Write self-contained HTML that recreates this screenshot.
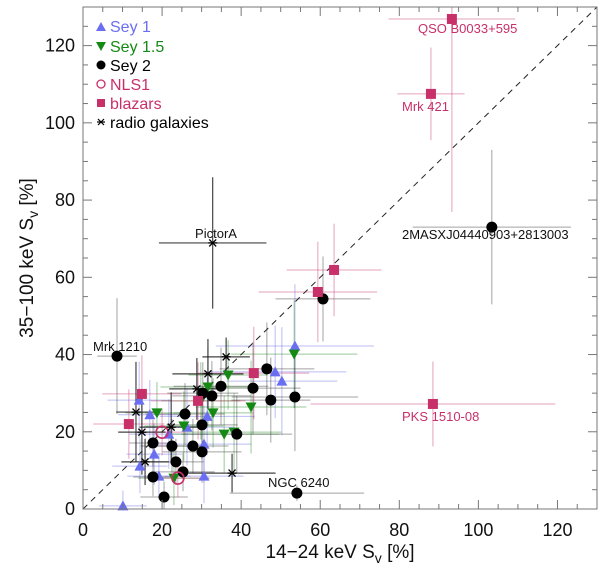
<!DOCTYPE html>
<html><head><meta charset="utf-8"><style>
html,body{margin:0;padding:0;background:#fff;}
svg{display:block;font-family:"Liberation Sans","DejaVu Sans",sans-serif;}
</style></head><body>
<svg id="chart" width="600" height="574" viewBox="0 0 600 574" xmlns="http://www.w3.org/2000/svg">
<g id="errs"></g>
<line id="diag" stroke="#222" stroke-width="1" stroke-dasharray="6,5"/>
<g id="marks"></g>
<g id="axes"></g>
<text x="340" y="558" text-anchor="middle" font-size="19" fill="#111">14−24 keV S<tspan font-size="14" dy="5">v</tspan><tspan dy="-5"> [%]</tspan></text>
<text transform="translate(33,258) rotate(-90)" text-anchor="middle" font-size="19" fill="#111">35−100 keV S<tspan font-size="14" dy="5">v</tspan><tspan dy="-5"> [%]</tspan></text>
<g font-size="13">
<text x="93" y="351" fill="#111">Mrk 1210</text>
<text x="268" y="487" fill="#111">NGC 6240</text>
<text x="216" y="238" text-anchor="middle" fill="#111">PictorA</text>
<text x="418" y="33" fill="#c8306a">QSO B0033+595</text>
<text x="402" y="111" fill="#c8306a">Mrk 421</text>
<text x="402" y="239" fill="#111">2MASXJ04440903+2813003</text>
<text x="402" y="421" fill="#c8306a">PKS 1510-08</text>
</g>
<g font-size="16">
<g><polygon points="101,22 96,31 106,31" fill="#6a6ef0"/><text x="110" y="32" fill="#6a6ef0">Sey 1</text></g>
<g><polygon points="101,51 96,42 106,42" fill="#148a14"/><text x="110" y="52" fill="#148a14">Sey 1.5</text></g>
<g><circle cx="101" cy="65" r="4.5" fill="#000"/><text x="110" y="71" fill="#000">Sey 2</text></g>
<g><circle cx="101" cy="84" r="4" fill="none" stroke="#c8306a" stroke-width="1.3"/><text x="110" y="90" fill="#c8306a">NLS1</text></g>
<g><rect x="97" y="99" width="8" height="8" fill="#c8306a"/><text x="110" y="109" fill="#c8306a">blazars</text></g>
<g><g stroke="#000" stroke-width="1.2"><line x1="97" y1="122" x2="105" y2="122"/><line x1="98" y1="119" x2="104" y2="125"/><line x1="98" y1="125" x2="104" y2="119"/></g><text x="110" y="128" fill="#000">radio galaxies</text></g>
</g>
</svg>
<script>
// ---- data ----
const sey1X = [10.1,14.2,16.9,18.0,14.4,19.2,21.7,26.3,30.6,30.6,31.4,48.6,50.3,53.6];
const sey1Y = [0.8,28.2,24.4,14.2,11.1,8.5,19.4,21.2,16.8,8.5,24.0,35.5,33.1,42.2];
const sey15X = [18.7,25.5,31.6,32.9,36.7,35.7,38.2,42.5,53.4,23.0,29.8];
const sey15Y = [24.9,21.5,31.6,24.9,34.7,19.4,19.9,26.4,40.1,8.0,28.0];
const sey2X = [8.6,17.7,17.7,20.5,22.5,23.5,25.3,25.8,27.8,30.1,30.1,30.3,32.6,34.9,38.9,43.0,46.5,47.5,53.6,54.1,60.7,103.4];
const sey2Y = [39.6,17.1,8.3,3.1,16.3,12.2,9.6,24.6,16.3,21.8,14.8,30.0,29.3,31.8,19.4,31.3,36.3,28.2,29.0,4.1,54.4,73.0];
const nls1X = [20.0,24.0];
const nls1Y = [19.9,8.0];
const blazX = [11.6,14.9,29.1,43.2,59.4,63.5,88.0,93.3,88.5];
const blazY = [22.0,29.8,28.0,35.2,56.2,61.9,107.5,126.9,27.2];
const radioX = [13.4,14.9,15.7,22.3,28.8,31.6,36.2,37.7,32.8];
const radioY = [25.1,19.9,12.2,21.2,31.1,35.0,39.4,9.3,68.9];
const sey1XErr = [6,8,8,7,7,8,10,12,12,10,12,18,14,20];
const sey1YErr = [4,10,9,8,7,6,9,10,10,7,10,12,14,16];
const sey15XErr = [8,10,12,10,10,14,12,14,16,9,10];
const sey15YErr = [8,9,10,9,9,10,10,12,14,7,10];
const sey2XErr = [5,6,5,6,8,7,8,10,9,9,10,9,10,12,14,12,12,10,16,17,12,20];
const sey2YErr = [15,6,5,4,7,6,5,8,7,9,8,8,9,10,10,12,12,11,14,2,11,20];
const nls1XErr = [6,8];
const nls1YErr = [6,5];
const blazXErr = [9,10,12,14,15,12,8.5,16,31];
const blazYErr = [9,10,10,12,13,12,12,50,11];
const radioXErr = [5,6,6,8,7,9,6,11,13.6];
const radioYErr = [13,11,6,9,8,9,5,5,17];
const xTicks = [0,20,40,60,80,100,120];
const yTicks = [0,20,40,60,80,100,120];

const L=83,T=7,R=597,B=509, XMAX=130, YMAX=130;
const sx = v => L + v*(R-L)/XMAX;
const sy = v => B - v*(B-T)/YMAX;
const NS='http://www.w3.org/2000/svg';
function mk(tag, parent, attrs){const e=document.createElementNS(NS,tag);for(const k in attrs)e.setAttribute(k,attrs[k]);parent.appendChild(e);return e;}

const errs=document.getElementById('errs'), marks=document.getElementById('marks');
function drawErr(xs,ys,xe,ye,col,name){
  for(let i=0;i<xs.length;i++){
    const h=mk('line',errs,{x1:sx(Math.max(0,xs[i]-xe[i])),x2:sx(Math.min(XMAX,xs[i]+xe[i])),y1:sy(ys[i]),y2:sy(ys[i]),stroke:col,'stroke-width':1,'stroke-opacity':0.45});
    
    
    const v=mk('line',errs,{x1:sx(xs[i]),x2:sx(xs[i]),y1:sy(Math.min(YMAX,ys[i]+ye[i])),y2:sy(Math.max(0,ys[i]-ye[i])),stroke:col,'stroke-width':1,'stroke-opacity':0.45});
    
    
  }
}
drawErr(sey1X,sey1Y,sey1XErr,sey1YErr,'#6a6ae8','sey1');
drawErr(sey15X,sey15Y,sey15XErr,sey15YErr,'#1a8a1a','sey15');
drawErr(sey2X,sey2Y,sey2XErr,sey2YErr,'#333','sey2');
drawErr(nls1X,nls1Y,nls1XErr,nls1YErr,'#c8306a','nls1');
drawErr(blazX,blazY,blazXErr,blazYErr,'#c8306a','blazar');
for(let i=0;i<radioX.length;i++){
  const h=mk('line',errs,{x1:sx(radioX[i]-radioXErr[i]),x2:sx(radioX[i]+radioXErr[i]),y1:sy(radioY[i]),y2:sy(radioY[i]),stroke:'#222','stroke-width':1.2,'stroke-opacity':0.85});
  
  
  const v=mk('line',errs,{x1:sx(radioX[i]),x2:sx(radioX[i]),y1:sy(radioY[i]+radioYErr[i]),y2:sy(radioY[i]-radioYErr[i]),stroke:'#222','stroke-width':1.2,'stroke-opacity':0.85});
  
  
}

const d=document.getElementById('diag');
d.setAttribute('x1',sx(0));d.setAttribute('y1',sy(0));d.setAttribute('x2',sx(130));d.setAttribute('y2',sy(130));

function triUp(p,cx,cy,col){return mk('polygon',p,{points:`${cx},${cy-5.5} ${cx-5.5},${cy+4.5} ${cx+5.5},${cy+4.5}`,fill:col});}
function triDn(p,cx,cy,col){return mk('polygon',p,{points:`${cx},${cy+5.5} ${cx-5.5},${cy-4.5} ${cx+5.5},${cy-4.5}`,fill:col});}
function star(p,cx,cy){const g=mk('g',p,{stroke:'#000','stroke-width':1.3});
  mk('line',g,{x1:cx-4.5,x2:cx+4.5,y1:cy,y2:cy});mk('line',g,{x1:cx-3.5,x2:cx+3.5,y1:cy-3.5,y2:cy+3.5});mk('line',g,{x1:cx-3.5,x2:cx+3.5,y1:cy+3.5,y2:cy-3.5});return g;}
for(let i=0;i<sey1X.length;i++){const e=triUp(marks,sx(sey1X[i]),sy(sey1Y[i]),'#6a6ef0');
  
  }
for(let i=0;i<sey15X.length;i++){const e=triDn(marks,sx(sey15X[i]),sy(sey15Y[i]),'#148a14');
  
  }
for(let i=0;i<sey2X.length;i++){const e=mk('circle',marks,{cx:sx(sey2X[i]),cy:sy(sey2Y[i]),r:5.5,fill:'#000'});
  
  }
for(let i=0;i<nls1X.length;i++){const e=mk('circle',marks,{cx:sx(nls1X[i]),cy:sy(nls1Y[i]),r:6,fill:'none',stroke:'#c8306a','stroke-width':1.6});
  
  }
for(let i=0;i<blazX.length;i++){const e=mk('rect',marks,{x:sx(blazX[i])-5,y:sy(blazY[i])-5,width:10,height:10,fill:'#c8306a'});
  
  }
for(let i=0;i<radioX.length;i++){const e=star(marks,sx(radioX[i]),sy(radioY[i]));
  
  }

const ax=document.getElementById('axes');
mk('rect',ax,{x:L,y:T,width:R-L,height:B-T,fill:'none',stroke:'#777','stroke-width':1});
for(let v=0;v<=130;v+=5){
  const big=v%20===0, len=big?9:5;
  mk('line',ax,{x1:sx(v),x2:sx(v),y1:B,y2:B-len,stroke:'#777'});
  mk('line',ax,{x1:sx(v),x2:sx(v),y1:T,y2:T+len,stroke:'#777'});
  mk('line',ax,{x1:L,x2:L+len,y1:sy(v),y2:sy(v),stroke:'#777'});
  mk('line',ax,{x1:R,x2:R-len,y1:sy(v),y2:sy(v),stroke:'#777'});
}
xTicks.forEach(t=>{const e=mk('text',ax,{x:sx(t),y:B+27,'text-anchor':'middle','font-size':18,fill:'#111'});e.textContent=t;
  
  });
yTicks.forEach(t=>{const e=mk('text',ax,{x:L-8,y:sy(t)+6,'text-anchor':'end','font-size':18,fill:'#111'});e.textContent=t;
  
  });
</script>
</body></html>
